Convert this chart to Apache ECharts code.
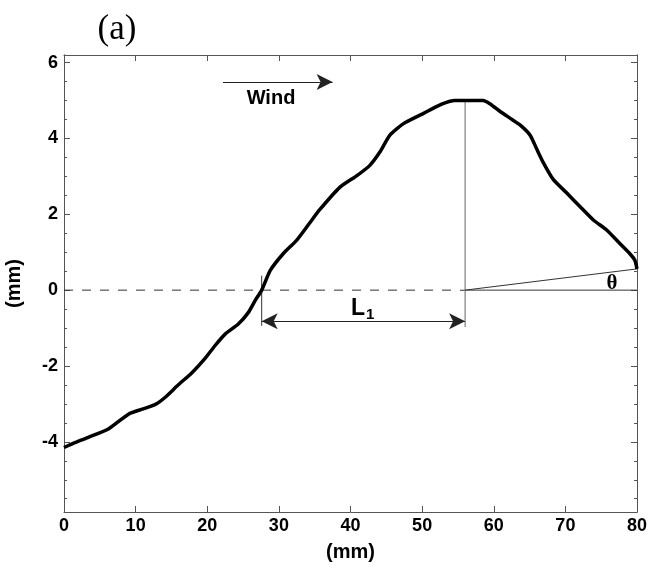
<!DOCTYPE html>
<html>
<head>
<meta charset="utf-8">
<script src="https://cdn.jsdelivr.net/npm/echarts@6/dist/echarts.min.js"></script>
<style>
  html, body { margin: 0; padding: 0; background: #fff; }
  #chart { width: 650px; height: 568px; }
</style>
</head>
<body>
<div id="chart"></div>
<script>
// Surface profile of the ripple (mm)
const profileX = [0, 1.5, 3.4, 6.2, 9.0, 10.9, 12.7, 14.1, 16.0, 17.8, 19.7, 21.1, 22.5, 24.3, 25.7, 26.7, 27.6, 28.8, 30.6, 32.5, 34.3, 35.7, 38.5, 40.9, 42.7, 44.1, 45.5, 47.4, 50.2, 52.0, 53.4, 54.5, 56.0, 58.5, 59.5, 60.9, 62.3, 63.7, 65.1, 66.0, 66.9, 68.3, 70.2, 72.0, 73.9, 75.8, 77.6, 79.0, 79.7, 80.0];
const profileY = [-4.15, -4.02, -3.88, -3.66, -3.27, -3.14, -3.02, -2.83, -2.49, -2.19, -1.80, -1.46, -1.16, -0.90, -0.60, -0.27, 0.00, 0.52, 0.96, 1.32, 1.77, 2.12, 2.71, 3.02, 3.29, 3.64, 4.09, 4.39, 4.66, 4.84, 4.95, 5.00, 5.00, 5.00, 4.91, 4.71, 4.53, 4.35, 4.08, 3.72, 3.37, 2.92, 2.56, 2.21, 1.85, 1.58, 1.23, 0.96, 0.79, 0.56];

// Axis ticks
const xTicks = [0, 10, 20, 30, 40, 50, 60, 70, 80];
const yTicks = [-4, -2, 0, 2, 4, 6];
const yMinorTicks = [-5.5, -5, -4.5, -3.5, -3, -2.5, -1.5, -1, -0.5, 0.5, 1, 1.5, 2.5, 3, 3.5, 4.5, 5, 5.5];

// Geometry annotations (data units)
const crestX = 56.0, crestY = 5.0;
const crossX = 27.6;
const l1Y = -0.82;
const endY = 0.56;
const windFrom = [22.2, 5.49], windTo = [37.5, 5.49];
const windLabel = [28.9, 5.06];
const l1Label = [41.7, -0.48];
const thetaLabel = [76.5, 0.17];

const bold = { fontFamily: 'Liberation Sans', fontWeight: 'bold', color: '#000' };
const axisLineStyle = { color: '#555', width: 1 };
const plainText = { textBorderWidth: 0, textBorderColor: 'transparent', textShadowBlur: 0 };

const chart = echarts.init(document.getElementById('chart'));

function yAxisCfg(position, values, len) {
  return {
    type: 'value', position, min: -5.85, max: 6.2,
    axisLine: { show: true, onZero: false, lineStyle: axisLineStyle },
    axisTick: { show: true, inside: true, length: len, customValues: values, lineStyle: axisLineStyle },
    axisLabel: { show: false },
    splitLine: { show: false }
  };
}

chart.setOption({
  animation: false,
  backgroundColor: '#fff',
  grid: { left: 64, right: 13, top: 55, bottom: 56, containLabel: false, outerBoundsMode: 'none' },
  graphic: [{
    type: 'text', x: 117, y: 30,
    style: { text: '(a)', font: '35px "Liberation Serif"', fill: '#000', textAlign: 'center', textVerticalAlign: 'middle' }
  }],
  xAxis: [{
    type: 'value', min: 0, max: 80, interval: 10, position: 'bottom',
    name: '(mm)', nameLocation: 'middle', nameGap: 30,
    nameTextStyle: Object.assign({ fontSize: 20 }, bold),
    axisLine: { show: true, onZero: false, lineStyle: axisLineStyle },
    axisTick: { show: true, inside: true, length: 6, lineStyle: axisLineStyle },
    axisLabel: Object.assign({ fontSize: 18, margin: 5, customValues: xTicks }, bold),
    splitLine: { show: false }
  }, {
    type: 'value', min: 0, max: 80, interval: 10, position: 'top',
    axisLine: { show: true, onZero: false, lineStyle: axisLineStyle },
    axisTick: { show: true, inside: true, length: 6, lineStyle: axisLineStyle },
    axisLabel: { show: false }, splitLine: { show: false }
  }],
  yAxis: [
    Object.assign(yAxisCfg('left', yTicks, 6), {
      name: '(mm)', nameLocation: 'middle', nameGap: 40, nameRotate: 90,
      nameTextStyle: Object.assign({ fontSize: 20 }, bold),
      axisLabel: Object.assign({ show: true, fontSize: 18, margin: 6, customValues: yTicks }, bold)
    }),
    yAxisCfg('left', yMinorTicks, 3),
    yAxisCfg('right', yTicks, 6),
    yAxisCfg('right', yMinorTicks, 3)
  ],
  series: [
    {
      // zero reference: dashed up to the crest, solid beyond it
      type: 'line', symbol: 'none', silent: true,
      data: [[0, 0], [crestX, 0]],
      lineStyle: { color: '#333', width: 1, type: [9, 9] }
    },
    {
      type: 'line', symbol: 'none', silent: true,
      data: [[crestX, 0], [80, 0]],
      lineStyle: { color: '#333', width: 1 }
    },
    {
      // lee-side slope angle
      type: 'line', symbol: 'none', silent: true,
      data: [[crestX, 0], [80, endY]],
      lineStyle: { color: '#333', width: 1 }
    },
    {
      // crest marker
      type: 'line', symbol: 'none', silent: true,
      data: [[crestX, -0.97], [crestX, crestY]],
      lineStyle: { color: '#666', width: 1 }
    },
    {
      // zero-crossing marker
      type: 'line', symbol: 'none', silent: true,
      data: [[crossX, 0.38], [crossX, -0.94]],
      lineStyle: { color: '#333', width: 1 }
    },
    {
      // ripple profile
      type: 'line', symbol: 'none', smooth: 0.2,
      data: profileX.map((x, i) => [x, profileY[i]]),
      lineStyle: { color: '#000', width: 3.5 },
      markLine: {
        silent: true, animation: false,
        symbol: ['arrow', 'arrow'], symbolSize: [12, 16],
        label: { show: false },
        lineStyle: { color: '#222', width: 1.2, type: 'solid' },
        data: [
          [{ coord: [crossX, l1Y], symbol: 'arrow' }, { coord: [crestX, l1Y], symbol: 'arrow' }],
          [{ coord: windFrom, symbol: 'none' }, { coord: windTo, symbol: 'arrow' }]
        ]
      }
    },
    {
      // text annotations
      type: 'scatter', symbolSize: 0, silent: true,
      itemStyle: { color: '#000', opacity: 1 },
      data: [
        { value: windLabel, label: Object.assign({ formatter: 'Wind', fontSize: 20, fontFamily: 'Liberation Sans', fontWeight: 'bold', color: '#000' }, plainText) },
        { value: l1Label, label: Object.assign({ formatter: '{l|L}{s|1}', rich: {
            l: Object.assign({ fontSize: 23, fontFamily: 'Liberation Sans', fontWeight: 'bold', color: '#000', lineHeight: 24 }, plainText),
            s: Object.assign({ fontSize: 15, fontFamily: 'Liberation Sans', fontWeight: 'bold', color: '#000', padding: [14, 0, 0, 1], lineHeight: 14 }, plainText)
          } }, plainText) },
        { value: thetaLabel, label: Object.assign({ formatter: 'θ', fontSize: 21, fontFamily: 'Liberation Serif', fontWeight: 'bold', color: '#000' }, plainText) }
      ],
      label: { show: true, position: 'inside' }
    }
  ]
});
</script>
</body>
</html>
